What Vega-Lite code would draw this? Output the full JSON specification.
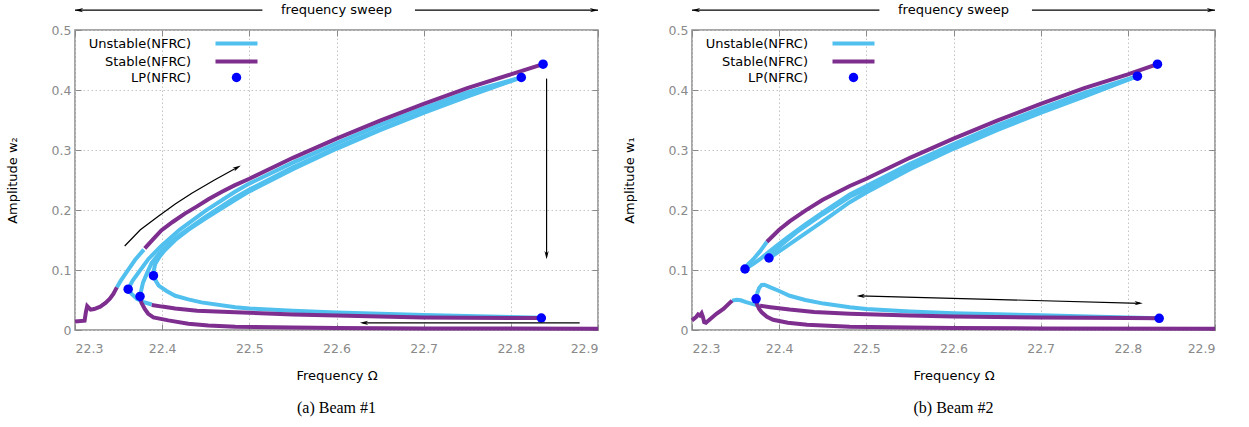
{
"$schema": "https://vega.github.io/schema/vega-lite/v6.json",
"padding": {"left": 5, "top": 3, "right": 5, "bottom": 5},
"bounds": "flush",
"spacing": 94,
"resolve": {"scale": {"color": "independent"}},
"config": {
  "font": "DejaVu Sans",
  "view": {"stroke": "#8a8a8a", "strokeWidth": 1.5},
  "axis": {"labelColor": "#8a8a8a", "labelFontSize": 12.5, "titleFontSize": 13, "titleFontWeight": "normal", "titleColor": "black", "gridColor": "#c4c4c4", "gridDash": [1.5, 2.5], "gridWidth": 1, "domain": false, "tickColor": "#8a8a8a", "tickSize": -6, "labelFont": "DejaVu Sans", "titleFont": "DejaVu Sans"},
  "title": {"font": "Liberation Serif", "fontSize": 16, "fontWeight": "normal", "color": "black"}
},
"datasets": {
  "al": [
    {"s":"S1","k":"Stable(NFRC)","x":22.300,"y":0.014},{"s":"S1","k":"Stable(NFRC)","x":22.311,"y":0.0155},{"s":"S1","k":"Stable(NFRC)","x":22.3125,"y":0.03},{"s":"S1","k":"Stable(NFRC)","x":22.314,"y":0.04},{"s":"S1","k":"Stable(NFRC)","x":22.316,"y":0.037},{"s":"S1","k":"Stable(NFRC)","x":22.318,"y":0.034},{"s":"S1","k":"Stable(NFRC)","x":22.322,"y":0.035},{"s":"S1","k":"Stable(NFRC)","x":22.329,"y":0.039},{"s":"S1","k":"Stable(NFRC)","x":22.335,"y":0.045},{"s":"S1","k":"Stable(NFRC)","x":22.340,"y":0.052},{"s":"S1","k":"Stable(NFRC)","x":22.344,"y":0.060},{"s":"S1","k":"Stable(NFRC)","x":22.348,"y":0.071},
    {"s":"U0","k":"Unstable(NFRC)","x":22.348,"y":0.071},{"s":"U0","k":"Unstable(NFRC)","x":22.352,"y":0.081},{"s":"U0","k":"Unstable(NFRC)","x":22.359,"y":0.096},{"s":"U0","k":"Unstable(NFRC)","x":22.369,"y":0.117},{"s":"U0","k":"Unstable(NFRC)","x":22.379,"y":0.134},
    {"s":"S2","k":"Stable(NFRC)","x":22.380,"y":0.136},{"s":"S2","k":"Stable(NFRC)","x":22.390,"y":0.152},{"s":"S2","k":"Stable(NFRC)","x":22.399,"y":0.166},{"s":"S2","k":"Stable(NFRC)","x":22.412,"y":0.180},{"s":"S2","k":"Stable(NFRC)","x":22.426,"y":0.194},{"s":"S2","k":"Stable(NFRC)","x":22.44,"y":0.206},{"s":"S2","k":"Stable(NFRC)","x":22.453,"y":0.218},{"s":"S2","k":"Stable(NFRC)","x":22.468,"y":0.230},{"s":"S2","k":"Stable(NFRC)","x":22.483,"y":0.241},{"s":"S2","k":"Stable(NFRC)","x":22.5,"y":0.252},{"s":"S2","k":"Stable(NFRC)","x":22.55,"y":0.287},{"s":"S2","k":"Stable(NFRC)","x":22.6,"y":0.319},{"s":"S2","k":"Stable(NFRC)","x":22.65,"y":0.349},{"s":"S2","k":"Stable(NFRC)","x":22.7,"y":0.377},{"s":"S2","k":"Stable(NFRC)","x":22.75,"y":0.403},{"s":"S2","k":"Stable(NFRC)","x":22.8,"y":0.426},{"s":"S2","k":"Stable(NFRC)","x":22.837,"y":0.443},
    {"s":"U1","k":"Unstable(NFRC)","x":22.361,"y":0.068},{"s":"U1","k":"Unstable(NFRC)","x":22.366,"y":0.082},{"s":"U1","k":"Unstable(NFRC)","x":22.373,"y":0.096},{"s":"U1","k":"Unstable(NFRC)","x":22.384,"y":0.118},{"s":"U1","k":"Unstable(NFRC)","x":22.399,"y":0.140},{"s":"U1","k":"Unstable(NFRC)","x":22.42,"y":0.167},{"s":"U1","k":"Unstable(NFRC)","x":22.45,"y":0.199},{"s":"U1","k":"Unstable(NFRC)","x":22.483,"y":0.230},{"s":"U1","k":"Unstable(NFRC)","x":22.5,"y":0.244},{"s":"U1","k":"Unstable(NFRC)","x":22.55,"y":0.279},{"s":"U1","k":"Unstable(NFRC)","x":22.6,"y":0.311},{"s":"U1","k":"Unstable(NFRC)","x":22.65,"y":0.342},{"s":"U1","k":"Unstable(NFRC)","x":22.7,"y":0.370},{"s":"U1","k":"Unstable(NFRC)","x":22.75,"y":0.396},{"s":"U1","k":"Unstable(NFRC)","x":22.812,"y":0.421},
    {"s":"U2","k":"Unstable(NFRC)","x":22.3746,"y":0.056},{"s":"U2","k":"Unstable(NFRC)","x":22.376,"y":0.066},{"s":"U2","k":"Unstable(NFRC)","x":22.378,"y":0.079},{"s":"U2","k":"Unstable(NFRC)","x":22.383,"y":0.096},{"s":"U2","k":"Unstable(NFRC)","x":22.388,"y":0.112},{"s":"U2","k":"Unstable(NFRC)","x":22.397,"y":0.128},{"s":"U2","k":"Unstable(NFRC)","x":22.407,"y":0.143},{"s":"U2","k":"Unstable(NFRC)","x":22.42,"y":0.158},{"s":"U2","k":"Unstable(NFRC)","x":22.45,"y":0.189},{"s":"U2","k":"Unstable(NFRC)","x":22.483,"y":0.220},{"s":"U2","k":"Unstable(NFRC)","x":22.5,"y":0.234},{"s":"U2","k":"Unstable(NFRC)","x":22.55,"y":0.271},{"s":"U2","k":"Unstable(NFRC)","x":22.6,"y":0.304},{"s":"U2","k":"Unstable(NFRC)","x":22.65,"y":0.335},{"s":"U2","k":"Unstable(NFRC)","x":22.7,"y":0.364},{"s":"U2","k":"Unstable(NFRC)","x":22.75,"y":0.391},{"s":"U2","k":"Unstable(NFRC)","x":22.812,"y":0.421},
    {"s":"U3","k":"Unstable(NFRC)","x":22.390,"y":0.0905},{"s":"U3","k":"Unstable(NFRC)","x":22.3905,"y":0.100},{"s":"U3","k":"Unstable(NFRC)","x":22.392,"y":0.110},{"s":"U3","k":"Unstable(NFRC)","x":22.397,"y":0.122},{"s":"U3","k":"Unstable(NFRC)","x":22.403,"y":0.133},{"s":"U3","k":"Unstable(NFRC)","x":22.415,"y":0.150},{"s":"U3","k":"Unstable(NFRC)","x":22.43,"y":0.167},{"s":"U3","k":"Unstable(NFRC)","x":22.45,"y":0.186},{"s":"U3","k":"Unstable(NFRC)","x":22.483,"y":0.216},{"s":"U3","k":"Unstable(NFRC)","x":22.5,"y":0.231},{"s":"U3","k":"Unstable(NFRC)","x":22.55,"y":0.268},{"s":"U3","k":"Unstable(NFRC)","x":22.6,"y":0.302},{"s":"U3","k":"Unstable(NFRC)","x":22.65,"y":0.333},{"s":"U3","k":"Unstable(NFRC)","x":22.7,"y":0.362},{"s":"U3","k":"Unstable(NFRC)","x":22.75,"y":0.389},{"s":"U3","k":"Unstable(NFRC)","x":22.812,"y":0.421},
    {"s":"U4","k":"Unstable(NFRC)","x":22.361,"y":0.068},{"s":"U4","k":"Unstable(NFRC)","x":22.365,"y":0.060},{"s":"U4","k":"Unstable(NFRC)","x":22.371,"y":0.052},{"s":"U4","k":"Unstable(NFRC)","x":22.378,"y":0.047},{"s":"U4","k":"Unstable(NFRC)","x":22.388,"y":0.0425},
    {"s":"S3","k":"Stable(NFRC)","x":22.388,"y":0.0418},{"s":"S3","k":"Stable(NFRC)","x":22.40,"y":0.039},{"s":"S3","k":"Stable(NFRC)","x":22.415,"y":0.036},{"s":"S3","k":"Stable(NFRC)","x":22.44,"y":0.032},{"s":"S3","k":"Stable(NFRC)","x":22.484,"y":0.0295},{"s":"S3","k":"Stable(NFRC)","x":22.55,"y":0.026},{"s":"S3","k":"Stable(NFRC)","x":22.6,"y":0.024},{"s":"S3","k":"Stable(NFRC)","x":22.7,"y":0.021},{"s":"S3","k":"Stable(NFRC)","x":22.8,"y":0.020},{"s":"S3","k":"Stable(NFRC)","x":22.835,"y":0.020},
    {"s":"U5","k":"Unstable(NFRC)","x":22.390,"y":0.0905},{"s":"U5","k":"Unstable(NFRC)","x":22.393,"y":0.081},{"s":"U5","k":"Unstable(NFRC)","x":22.396,"y":0.074},{"s":"U5","k":"Unstable(NFRC)","x":22.405,"y":0.065},{"s":"U5","k":"Unstable(NFRC)","x":22.415,"y":0.057},{"s":"U5","k":"Unstable(NFRC)","x":22.43,"y":0.051},{"s":"U5","k":"Unstable(NFRC)","x":22.445,"y":0.046},{"s":"U5","k":"Unstable(NFRC)","x":22.484,"y":0.038},{"s":"U5","k":"Unstable(NFRC)","x":22.5,"y":0.036},{"s":"U5","k":"Unstable(NFRC)","x":22.55,"y":0.032},{"s":"U5","k":"Unstable(NFRC)","x":22.6,"y":0.029},{"s":"U5","k":"Unstable(NFRC)","x":22.7,"y":0.025},{"s":"U5","k":"Unstable(NFRC)","x":22.8,"y":0.0215},{"s":"U5","k":"Unstable(NFRC)","x":22.835,"y":0.0205},
    {"s":"S4","k":"Stable(NFRC)","x":22.3746,"y":0.056},{"s":"S4","k":"Stable(NFRC)","x":22.376,"y":0.046},{"s":"S4","k":"Stable(NFRC)","x":22.380,"y":0.035},{"s":"S4","k":"Stable(NFRC)","x":22.384,"y":0.027},{"s":"S4","k":"Stable(NFRC)","x":22.39,"y":0.021},{"s":"S4","k":"Stable(NFRC)","x":22.407,"y":0.016},{"s":"S4","k":"Stable(NFRC)","x":22.43,"y":0.0105},{"s":"S4","k":"Stable(NFRC)","x":22.453,"y":0.0075},{"s":"S4","k":"Stable(NFRC)","x":22.484,"y":0.0055},{"s":"S4","k":"Stable(NFRC)","x":22.55,"y":0.004},{"s":"S4","k":"Stable(NFRC)","x":22.6,"y":0.0033},{"s":"S4","k":"Stable(NFRC)","x":22.7,"y":0.0027},{"s":"S4","k":"Stable(NFRC)","x":22.8,"y":0.0023},{"s":"S4","k":"Stable(NFRC)","x":22.9,"y":0.002}
  ],
  "ap": [
    {"k":"LP(NFRC)","x":22.361,"y":0.068},{"k":"LP(NFRC)","x":22.3746,"y":0.056},{"k":"LP(NFRC)","x":22.390,"y":0.0905},{"k":"LP(NFRC)","x":22.812,"y":0.421},{"k":"LP(NFRC)","x":22.837,"y":0.443},{"k":"LP(NFRC)","x":22.835,"y":0.020}
  ],
  "ar": [
    {"x":22.3,"y":0.533,"x2":22.515,"y2":0.533},{"x":22.69,"y":0.533,"x2":22.9,"y2":0.533},{"x":22.841,"y":0.419,"x2":22.841,"y2":0.122},{"x":22.879,"y":0.012,"x2":22.63,"y2":0.012}
  ],
  "ah": [
    {"d":"L","x":22.3046,"y":0.533},{"d":"R","x":22.8954,"y":0.533},{"d":"D","x":22.841,"y":0.1247},{"d":"L","x":22.6316,"y":0.012},{"d":"U","x":22.486,"y":0.2707}
  ],
  "ac": [
    {"x":22.357,"y":0.140},{"x":22.375,"y":0.167},{"x":22.396,"y":0.190},{"x":22.415,"y":0.210},{"x":22.434,"y":0.228},{"x":22.46,"y":0.250},{"x":22.486,"y":0.2707}
  ],
  "tt": [{"x":22.6,"y":0.533,"t":"frequency sweep"}],
  "bl": [
    {"s":"S1","k":"Stable(NFRC)","x":22.300,"y":0.016},{"s":"S1","k":"Stable(NFRC)","x":22.305,"y":0.022},{"s":"S1","k":"Stable(NFRC)","x":22.307,"y":0.026},{"s":"S1","k":"Stable(NFRC)","x":22.309,"y":0.024},{"s":"S1","k":"Stable(NFRC)","x":22.311,"y":0.028},{"s":"S1","k":"Stable(NFRC)","x":22.3125,"y":0.022},{"s":"S1","k":"Stable(NFRC)","x":22.314,"y":0.013},{"s":"S1","k":"Stable(NFRC)","x":22.316,"y":0.012},{"s":"S1","k":"Stable(NFRC)","x":22.320,"y":0.017},{"s":"S1","k":"Stable(NFRC)","x":22.328,"y":0.027},{"s":"S1","k":"Stable(NFRC)","x":22.336,"y":0.035},{"s":"S1","k":"Stable(NFRC)","x":22.346,"y":0.049},
    {"s":"U0","k":"Unstable(NFRC)","x":22.346,"y":0.049},{"s":"U0","k":"Unstable(NFRC)","x":22.351,"y":0.0505},{"s":"U0","k":"Unstable(NFRC)","x":22.356,"y":0.0495},{"s":"U0","k":"Unstable(NFRC)","x":22.362,"y":0.0465},{"s":"U0","k":"Unstable(NFRC)","x":22.368,"y":0.044},{"s":"U0","k":"Unstable(NFRC)","x":22.374,"y":0.0415},{"s":"U0","k":"Unstable(NFRC)","x":22.378,"y":0.0405},
    {"s":"S3","k":"Stable(NFRC)","x":22.378,"y":0.0405},{"s":"S3","k":"Stable(NFRC)","x":22.39,"y":0.038},{"s":"S3","k":"Stable(NFRC)","x":22.412,"y":0.034},{"s":"S3","k":"Stable(NFRC)","x":22.44,"y":0.030},{"s":"S3","k":"Stable(NFRC)","x":22.481,"y":0.027},{"s":"S3","k":"Stable(NFRC)","x":22.55,"y":0.024},{"s":"S3","k":"Stable(NFRC)","x":22.6,"y":0.0225},{"s":"S3","k":"Stable(NFRC)","x":22.7,"y":0.021},{"s":"S3","k":"Stable(NFRC)","x":22.8,"y":0.0198},{"s":"S3","k":"Stable(NFRC)","x":22.836,"y":0.0195},
    {"s":"U5","k":"Unstable(NFRC)","x":22.3735,"y":0.052},{"s":"U5","k":"Unstable(NFRC)","x":22.375,"y":0.062},{"s":"U5","k":"Unstable(NFRC)","x":22.377,"y":0.070},{"s":"U5","k":"Unstable(NFRC)","x":22.380,"y":0.075},{"s":"U5","k":"Unstable(NFRC)","x":22.383,"y":0.0755},{"s":"U5","k":"Unstable(NFRC)","x":22.390,"y":0.071},{"s":"U5","k":"Unstable(NFRC)","x":22.40,"y":0.065},{"s":"U5","k":"Unstable(NFRC)","x":22.412,"y":0.057},{"s":"U5","k":"Unstable(NFRC)","x":22.43,"y":0.050},{"s":"U5","k":"Unstable(NFRC)","x":22.451,"y":0.044},{"s":"U5","k":"Unstable(NFRC)","x":22.481,"y":0.038},{"s":"U5","k":"Unstable(NFRC)","x":22.5,"y":0.035},{"s":"U5","k":"Unstable(NFRC)","x":22.55,"y":0.031},{"s":"U5","k":"Unstable(NFRC)","x":22.6,"y":0.028},{"s":"U5","k":"Unstable(NFRC)","x":22.7,"y":0.0245},{"s":"U5","k":"Unstable(NFRC)","x":22.8,"y":0.021},{"s":"U5","k":"Unstable(NFRC)","x":22.836,"y":0.0195},
    {"s":"S4","k":"Stable(NFRC)","x":22.3735,"y":0.052},{"s":"S4","k":"Stable(NFRC)","x":22.3745,"y":0.043},{"s":"S4","k":"Stable(NFRC)","x":22.377,"y":0.035},{"s":"S4","k":"Stable(NFRC)","x":22.380,"y":0.0295},{"s":"S4","k":"Stable(NFRC)","x":22.386,"y":0.022},{"s":"S4","k":"Stable(NFRC)","x":22.393,"y":0.017},{"s":"S4","k":"Stable(NFRC)","x":22.41,"y":0.012},{"s":"S4","k":"Stable(NFRC)","x":22.432,"y":0.0089},{"s":"S4","k":"Stable(NFRC)","x":22.481,"y":0.0055},{"s":"S4","k":"Stable(NFRC)","x":22.55,"y":0.004},{"s":"S4","k":"Stable(NFRC)","x":22.6,"y":0.0033},{"s":"S4","k":"Stable(NFRC)","x":22.7,"y":0.0027},{"s":"S4","k":"Stable(NFRC)","x":22.9,"y":0.002},
    {"s":"U6","k":"Unstable(NFRC)","x":22.3608,"y":0.1017},{"s":"U6","k":"Unstable(NFRC)","x":22.364,"y":0.109},{"s":"U6","k":"Unstable(NFRC)","x":22.3704,"y":0.118},{"s":"U6","k":"Unstable(NFRC)","x":22.378,"y":0.131},{"s":"U6","k":"Unstable(NFRC)","x":22.386,"y":0.147},
    {"s":"S2","k":"Stable(NFRC)","x":22.386,"y":0.147},{"s":"S2","k":"Stable(NFRC)","x":22.40,"y":0.167},{"s":"S2","k":"Stable(NFRC)","x":22.412,"y":0.181},{"s":"S2","k":"Stable(NFRC)","x":22.43,"y":0.199},{"s":"S2","k":"Stable(NFRC)","x":22.45,"y":0.217},{"s":"S2","k":"Stable(NFRC)","x":22.481,"y":0.240},{"s":"S2","k":"Stable(NFRC)","x":22.5,"y":0.252},{"s":"S2","k":"Stable(NFRC)","x":22.55,"y":0.287},{"s":"S2","k":"Stable(NFRC)","x":22.6,"y":0.319},{"s":"S2","k":"Stable(NFRC)","x":22.65,"y":0.349},{"s":"S2","k":"Stable(NFRC)","x":22.7,"y":0.377},{"s":"S2","k":"Stable(NFRC)","x":22.75,"y":0.403},{"s":"S2","k":"Stable(NFRC)","x":22.8,"y":0.426},{"s":"S2","k":"Stable(NFRC)","x":22.834,"y":0.443},
    {"s":"U1","k":"Unstable(NFRC)","x":22.3608,"y":0.1017},{"s":"U1","k":"Unstable(NFRC)","x":22.366,"y":0.106},{"s":"U1","k":"Unstable(NFRC)","x":22.372,"y":0.112},{"s":"U1","k":"Unstable(NFRC)","x":22.378,"y":0.118},{"s":"U1","k":"Unstable(NFRC)","x":22.388,"y":0.130},{"s":"U1","k":"Unstable(NFRC)","x":22.397,"y":0.1405},{"s":"U1","k":"Unstable(NFRC)","x":22.41,"y":0.155},{"s":"U1","k":"Unstable(NFRC)","x":22.43,"y":0.176},{"s":"U1","k":"Unstable(NFRC)","x":22.45,"y":0.196},{"s":"U1","k":"Unstable(NFRC)","x":22.481,"y":0.226},{"s":"U1","k":"Unstable(NFRC)","x":22.5,"y":0.240},{"s":"U1","k":"Unstable(NFRC)","x":22.55,"y":0.277},{"s":"U1","k":"Unstable(NFRC)","x":22.6,"y":0.310},{"s":"U1","k":"Unstable(NFRC)","x":22.65,"y":0.341},{"s":"U1","k":"Unstable(NFRC)","x":22.7,"y":0.369},{"s":"U1","k":"Unstable(NFRC)","x":22.75,"y":0.395},{"s":"U1","k":"Unstable(NFRC)","x":22.811,"y":0.423},
    {"s":"U2","k":"Unstable(NFRC)","x":22.3883,"y":0.12},{"s":"U2","k":"Unstable(NFRC)","x":22.391,"y":0.127},{"s":"U2","k":"Unstable(NFRC)","x":22.397,"y":0.135},{"s":"U2","k":"Unstable(NFRC)","x":22.405,"y":0.145},{"s":"U2","k":"Unstable(NFRC)","x":22.42,"y":0.163},{"s":"U2","k":"Unstable(NFRC)","x":22.45,"y":0.193},{"s":"U2","k":"Unstable(NFRC)","x":22.481,"y":0.222},{"s":"U2","k":"Unstable(NFRC)","x":22.5,"y":0.235},{"s":"U2","k":"Unstable(NFRC)","x":22.55,"y":0.272},{"s":"U2","k":"Unstable(NFRC)","x":22.6,"y":0.305},{"s":"U2","k":"Unstable(NFRC)","x":22.65,"y":0.336},{"s":"U2","k":"Unstable(NFRC)","x":22.7,"y":0.365},{"s":"U2","k":"Unstable(NFRC)","x":22.75,"y":0.392},{"s":"U2","k":"Unstable(NFRC)","x":22.811,"y":0.423},
    {"s":"U3","k":"Unstable(NFRC)","x":22.3883,"y":0.12},{"s":"U3","k":"Unstable(NFRC)","x":22.393,"y":0.124},{"s":"U3","k":"Unstable(NFRC)","x":22.40,"y":0.131},{"s":"U3","k":"Unstable(NFRC)","x":22.41,"y":0.141},{"s":"U3","k":"Unstable(NFRC)","x":22.43,"y":0.161},{"s":"U3","k":"Unstable(NFRC)","x":22.45,"y":0.181},{"s":"U3","k":"Unstable(NFRC)","x":22.481,"y":0.213},{"s":"U3","k":"Unstable(NFRC)","x":22.5,"y":0.229},{"s":"U3","k":"Unstable(NFRC)","x":22.55,"y":0.268},{"s":"U3","k":"Unstable(NFRC)","x":22.6,"y":0.302},{"s":"U3","k":"Unstable(NFRC)","x":22.65,"y":0.333},{"s":"U3","k":"Unstable(NFRC)","x":22.7,"y":0.362},{"s":"U3","k":"Unstable(NFRC)","x":22.75,"y":0.389},{"s":"U3","k":"Unstable(NFRC)","x":22.811,"y":0.423}
  ],
  "bp": [
    {"k":"LP(NFRC)","x":22.3608,"y":0.1017},{"k":"LP(NFRC)","x":22.3883,"y":0.12},{"k":"LP(NFRC)","x":22.3735,"y":0.052},{"k":"LP(NFRC)","x":22.811,"y":0.423},{"k":"LP(NFRC)","x":22.834,"y":0.443},{"k":"LP(NFRC)","x":22.836,"y":0.0195}
  ],
  "br": [
    {"x":22.3,"y":0.533,"x2":22.515,"y2":0.533},{"x":22.69,"y":0.533,"x2":22.9,"y2":0.533},{"x":22.492,"y":0.057,"x2":22.814,"y2":0.0445}
  ],
  "bh": [
    {"d":"L","x":22.3046,"y":0.533},{"d":"R","x":22.8954,"y":0.533},{"d":"L","x":22.4936,"y":0.0568},{"d":"R","x":22.8124,"y":0.0447}
  ]
},
"hconcat": [
  {
    "width": 523, "height": 300,
    "title": {"text": "(a) Beam #1", "orient": "bottom", "offset": 17},
    "resolve": {"axis": {"x": "independent", "y": "independent"}},
    "layer": [
      {"data": {"name": "al"}, "transform": [{"filter": "datum.k == 'Unstable(NFRC)'"}],
       "mark": {"type": "line", "strokeWidth": 4},
       "encoding": {
         "x": {"field": "x", "type": "quantitative", "scale": {"domain": [22.3, 22.9], "zero": false, "nice": false},
               "axis": {"orient": "bottom", "title": "Frequency Ω", "values": [22.3, 22.4, 22.5, 22.6, 22.7, 22.8, 22.9], "format": ".1f", "labelPadding": 18, "titlePadding": 15}},
         "y": {"field": "y", "type": "quantitative", "scale": {"domain": [0, 0.5], "nice": false},
               "axis": {"orient": "left", "title": "Amplitude w₂", "values": [0, 0.1, 0.2, 0.3, 0.4, 0.5], "labelExpr": "datum.value == 0 ? '0' : format(datum.value, '.1f')", "labelPadding": 10, "titlePadding": 32}},
         "color": {"field": "k", "type": "nominal",
                   "scale": {"domain": ["Unstable(NFRC)", "Stable(NFRC)", "LP(NFRC)"], "range": ["#51c0ee", "#7d2e8e", "#0000ff"]},
                   "legend": {"orient": "none", "legendX": 155, "legendY": 7, "title": null, "padding": 0, "rowPadding": 1,
                              "symbolType": "stroke", "symbolSize": 1764, "symbolStrokeWidth": 4, "labelAlign": "right", "labelOffset": -52,
                              "labelFontSize": 13, "labelColor": "black", "labelLimit": 300,
                              "encode": {"symbols": {"update": {
                                 "shape": {"signal": "datum.value === 'LP(NFRC)' ? 'circle' : 'stroke'"},
                                 "size": {"signal": "datum.value === 'LP(NFRC)' ? 90 : 1764"},
                                 "strokeWidth": {"signal": "datum.value === 'LP(NFRC)' ? 0 : 4"},
                                 "stroke": {"signal": "datum.value === 'Stable(NFRC)' ? '#7d2e8e' : (datum.value === 'LP(NFRC)' ? '#0000ff' : '#51c0ee')"},
                                 "fill": {"signal": "datum.value === 'LP(NFRC)' ? '#0000ff' : 'transparent'"},
                                 "opacity": {"value": 1}}}}}},
         "detail": {"field": "s"}
       }},
      {"data": {"name": "al"}, "transform": [{"filter": "datum.k == 'Stable(NFRC)'"}],
       "mark": {"type": "line", "strokeWidth": 4},
       "encoding": {
         "x": {"field": "x", "type": "quantitative", "axis": {"orient": "top", "values": [22.3, 22.4, 22.5, 22.6, 22.7, 22.8, 22.9], "labels": false, "grid": false, "title": null}},
         "y": {"field": "y", "type": "quantitative", "axis": {"orient": "right", "values": [0, 0.1, 0.2, 0.3, 0.4, 0.5], "labels": false, "grid": false, "title": null}},
         "color": {"field": "k", "type": "nominal"},
         "detail": {"field": "s"}
       }},
      {"data": {"name": "ap"},
       "mark": {"type": "point", "filled": true, "size": 90, "opacity": 1},
       "encoding": {
         "x": {"field": "x", "type": "quantitative", "axis": null},
         "y": {"field": "y", "type": "quantitative", "axis": null},
         "color": {"field": "k", "type": "nominal"}
       }},
      {"data": {"name": "ar"},
       "mark": {"type": "rule", "color": "black", "strokeWidth": 1.2},
       "encoding": {
         "x": {"field": "x", "type": "quantitative", "axis": null},
         "y": {"field": "y", "type": "quantitative", "axis": null},
         "x2": {"field": "x2"}, "y2": {"field": "y2"}
       }},
      {"data": {"name": "ac"},
       "mark": {"type": "line", "color": "black", "strokeWidth": 1.2},
       "encoding": {
         "x": {"field": "x", "type": "quantitative", "axis": null},
         "y": {"field": "y", "type": "quantitative", "axis": null}
       }},
      {"data": {"name": "ah"}, "transform": [{"filter": "datum.d == 'L'"}],
       "mark": {"type": "point", "shape": "M1,0L-1,-0.5L-0.4,0L-1,0.5Z", "filled": true, "color": "black", "opacity": 1, "size": 70, "angle": 180},
       "encoding": {"x": {"field": "x", "type": "quantitative", "axis": null}, "y": {"field": "y", "type": "quantitative", "axis": null}}},
      {"data": {"name": "ah"}, "transform": [{"filter": "datum.d == 'R'"}],
       "mark": {"type": "point", "shape": "M1,0L-1,-0.5L-0.4,0L-1,0.5Z", "filled": true, "color": "black", "opacity": 1, "size": 70, "angle": 0},
       "encoding": {"x": {"field": "x", "type": "quantitative", "axis": null}, "y": {"field": "y", "type": "quantitative", "axis": null}}},
      {"data": {"name": "ah"}, "transform": [{"filter": "datum.d == 'D'"}],
       "mark": {"type": "point", "shape": "M1,0L-1,-0.5L-0.4,0L-1,0.5Z", "filled": true, "color": "black", "opacity": 1, "size": 70, "angle": 90},
       "encoding": {"x": {"field": "x", "type": "quantitative", "axis": null}, "y": {"field": "y", "type": "quantitative", "axis": null}}},
      {"data": {"name": "ah"}, "transform": [{"filter": "datum.d == 'U'"}],
       "mark": {"type": "point", "shape": "M1,0L-1,-0.5L-0.4,0L-1,0.5Z", "filled": true, "color": "black", "opacity": 1, "size": 70, "angle": 332},
       "encoding": {"x": {"field": "x", "type": "quantitative", "axis": null}, "y": {"field": "y", "type": "quantitative", "axis": null}}},
      {"data": {"name": "tt"},
       "mark": {"type": "text", "fontSize": 13, "color": "black", "baseline": "middle", "align": "center"},
       "encoding": {"x": {"field": "x", "type": "quantitative", "axis": null}, "y": {"field": "y", "type": "quantitative", "axis": null}, "text": {"field": "t"}}}
    ]
  },
  {
    "width": 523, "height": 300,
    "title": {"text": "(b) Beam #2", "orient": "bottom", "offset": 17},
    "resolve": {"axis": {"x": "independent", "y": "independent"}},
    "layer": [
      {"data": {"name": "bl"}, "transform": [{"filter": "datum.k == 'Unstable(NFRC)'"}],
       "mark": {"type": "line", "strokeWidth": 4},
       "encoding": {
         "x": {"field": "x", "type": "quantitative", "scale": {"domain": [22.3, 22.9], "zero": false, "nice": false},
               "axis": {"orient": "bottom", "title": "Frequency Ω", "values": [22.3, 22.4, 22.5, 22.6, 22.7, 22.8, 22.9], "format": ".1f", "labelPadding": 18, "titlePadding": 15}},
         "y": {"field": "y", "type": "quantitative", "scale": {"domain": [0, 0.5], "nice": false},
               "axis": {"orient": "left", "title": "Amplitude w₁", "values": [0, 0.1, 0.2, 0.3, 0.4, 0.5], "labelExpr": "datum.value == 0 ? '0' : format(datum.value, '.1f')", "labelPadding": 10, "titlePadding": 32}},
         "color": {"field": "k", "type": "nominal",
                   "scale": {"domain": ["Unstable(NFRC)", "Stable(NFRC)", "LP(NFRC)"], "range": ["#51c0ee", "#7d2e8e", "#0000ff"]},
                   "legend": {"orient": "none", "legendX": 155, "legendY": 7, "title": null, "padding": 0, "rowPadding": 1,
                              "symbolType": "stroke", "symbolSize": 1764, "symbolStrokeWidth": 4, "labelAlign": "right", "labelOffset": -52,
                              "labelFontSize": 13, "labelColor": "black", "labelLimit": 300,
                              "encode": {"symbols": {"update": {
                                 "shape": {"signal": "datum.value === 'LP(NFRC)' ? 'circle' : 'stroke'"},
                                 "size": {"signal": "datum.value === 'LP(NFRC)' ? 90 : 1764"},
                                 "strokeWidth": {"signal": "datum.value === 'LP(NFRC)' ? 0 : 4"},
                                 "stroke": {"signal": "datum.value === 'Stable(NFRC)' ? '#7d2e8e' : (datum.value === 'LP(NFRC)' ? '#0000ff' : '#51c0ee')"},
                                 "fill": {"signal": "datum.value === 'LP(NFRC)' ? '#0000ff' : 'transparent'"},
                                 "opacity": {"value": 1}}}}}},
         "detail": {"field": "s"}
       }},
      {"data": {"name": "bl"}, "transform": [{"filter": "datum.k == 'Stable(NFRC)'"}],
       "mark": {"type": "line", "strokeWidth": 4},
       "encoding": {
         "x": {"field": "x", "type": "quantitative", "axis": {"orient": "top", "values": [22.3, 22.4, 22.5, 22.6, 22.7, 22.8, 22.9], "labels": false, "grid": false, "title": null}},
         "y": {"field": "y", "type": "quantitative", "axis": {"orient": "right", "values": [0, 0.1, 0.2, 0.3, 0.4, 0.5], "labels": false, "grid": false, "title": null}},
         "color": {"field": "k", "type": "nominal"},
         "detail": {"field": "s"}
       }},
      {"data": {"name": "bp"},
       "mark": {"type": "point", "filled": true, "size": 90, "opacity": 1},
       "encoding": {
         "x": {"field": "x", "type": "quantitative", "axis": null},
         "y": {"field": "y", "type": "quantitative", "axis": null},
         "color": {"field": "k", "type": "nominal"}
       }},
      {"data": {"name": "br"},
       "mark": {"type": "rule", "color": "black", "strokeWidth": 1.2},
       "encoding": {
         "x": {"field": "x", "type": "quantitative", "axis": null},
         "y": {"field": "y", "type": "quantitative", "axis": null},
         "x2": {"field": "x2"}, "y2": {"field": "y2"}
       }},
      {"data": {"name": "bh"}, "transform": [{"filter": "datum.d == 'L'"}],
       "mark": {"type": "point", "shape": "M1,0L-1,-0.5L-0.4,0L-1,0.5Z", "filled": true, "color": "black", "opacity": 1, "size": 70, "angle": 180},
       "encoding": {"x": {"field": "x", "type": "quantitative", "axis": null}, "y": {"field": "y", "type": "quantitative", "axis": null}}},
      {"data": {"name": "bh"}, "transform": [{"filter": "datum.d == 'R'"}],
       "mark": {"type": "point", "shape": "M1,0L-1,-0.5L-0.4,0L-1,0.5Z", "filled": true, "color": "black", "opacity": 1, "size": 70, "angle": 0},
       "encoding": {"x": {"field": "x", "type": "quantitative", "axis": null}, "y": {"field": "y", "type": "quantitative", "axis": null}}},
      {"data": {"name": "tt"},
       "mark": {"type": "text", "fontSize": 13, "color": "black", "baseline": "middle", "align": "center"},
       "encoding": {"x": {"field": "x", "type": "quantitative", "axis": null}, "y": {"field": "y", "type": "quantitative", "axis": null}, "text": {"field": "t"}}}
    ]
  }
]
}
